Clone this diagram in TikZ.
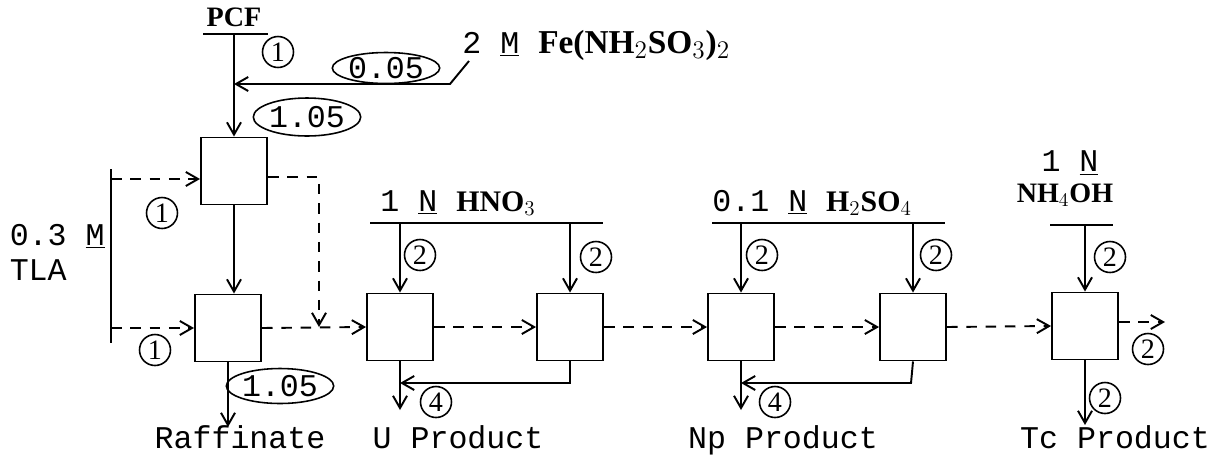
\documentclass[tikz,border=0pt]{standalone}
\usepackage{fontspec}
\setmainfont{Liberation Serif}
\setmonofont{Liberation Mono}
\usetikzlibrary{arrows.meta,shapes.geometric}

\tikzset{
    unit/.style={rectangle, draw, line width=1.1pt, minimum width=1.32cm, minimum height=1.34cm, inner sep=0pt},
    num/.style={circle, draw, line width=0.9pt, inner sep=0pt, minimum size=0.62cm, font=\fontsize{16}{16}\selectfont},
    val/.style={ellipse, draw, line width=0.9pt, inner sep=0pt, minimum width=1.8cm, minimum height=0.62cm, font=\ttfamily\fontsize{18}{18}\selectfont},
    lbl/.style={font=\ttfamily\fontsize{18}{20}\selectfont, inner sep=0pt},
    chem/.style={font=\bfseries\fontsize{16}{18}\selectfont, inner sep=0pt},
    feed/.style={draw, line width=1.1pt},
    flow/.style={draw, line width=1.1pt, -{Straight Barb[length=7pt,width=8pt]}},
    org/.style={flow, dash pattern=on 6pt off 5pt}
}

\begin{document}
\begin{tikzpicture}[x=0.02cm, y=-0.02cm]
\useasboundingbox (0,0) rectangle (1213,454);

% contactors
\node[unit] (s1) at (234,171) {};
\node[unit] (s2) at (228,328) {};
\node[unit] (s3) at (400,327) {};
\node[unit] (s4) at (570,327) {};
\node[unit] (s5) at (741,327) {};
\node[unit] (s6) at (913,327) {};
\node[unit] (s7) at (1085,326) {};

% feed and reductant
\node[chem] (pcf) at (234,17) {PCF};
\coordinate (pcfL) at (203,34);
\coordinate (pcfR) at (268,34);
\draw[feed] (pcfL) -- (pcfR);
\draw[flow] (s1.north |- pcfL) -- (s1.north);
\coordinate (fe1) at (469,61);
\coordinate (fe2) at (450,84);
\draw[flow] (fe1) -- (fe2) -- (fe2 -| s1.north);
\node[anchor=west, inner sep=0pt] (fe) at (462,45) {\ttfamily\fontsize{18}{20}\selectfont 2 \underline{M} \bfseries\rmfamily\fontsize{19}{20}\selectfont Fe(NH$_2$SO$_3$)$_2$};
\node[num] (n1) at (278,52) {1};
\node[val] (v1) at (386,68) {0.05};
\node[val, minimum height=0.76cm] (v2) at (307,117) {1.05};

% solvent
\coordinate (tlaT) at (111,169);
\coordinate (tlaB) at (111,343);
\draw[feed] (tlaT) -- (tlaB);
\node[lbl, anchor=east, align=left] (tla) at (105,252) {0.3 \underline{M}\\TLA};
\coordinate (tla1) at (111,179);
\coordinate (tla2) at (111,328);
\draw[org] (tla1) -- (tla1 -| s1.west);
\draw[org] (tla2) -- (tla2 -| s2.west);
\node[num] (n2) at (162,213) {1};
\node[num] (n3) at (155,350) {1};

% extraction
\draw[flow] (s1.south) -- (s1.south |- s2.north);
\coordinate (ex1) at (319,177);
\coordinate (ex2) at (319,327);
\draw[org] (ex1 -| s1.east) -- (ex1) -- (ex2);
\draw[org] (s2.east) -- (s3.west);
\node[lbl, anchor=base] (raf) at (240,448) {Raffinate};
\draw[flow] (s2.south) -- (s2.south |- 0,427);
\node[val, minimum height=0.7cm] (v3) at (280,386) {1.05};

% U strip
\node[anchor=west, inner sep=0pt] (hno) at (380,203) {\ttfamily\fontsize{18}{20}\selectfont 1 \underline{N} \bfseries\rmfamily\fontsize{17}{18}\selectfont HNO$_3$};
\coordinate (hnL) at (370,223);
\coordinate (hnR) at (603,223);
\draw[feed] (hnL) -- (hnR);
\draw[flow] (s3.north |- hnL) -- (s3.north);
\draw[flow] (s4.north |- hnL) -- (s4.north);
\node[num] (n4) at (420,255) {2};
\node[num] (n5) at (596,257) {2};
\draw[org] (s3.east) -- (s4.west);
\coordinate (rc1) at (570,383);
\draw[flow] (s4.south) -- (rc1) -- (rc1 -| s3.south);
\draw[flow] (s3.south) -- (s3.south |- 0,410);
\node[num] (n6) at (436,402) {4};
\node[lbl, anchor=base] (uprod) at (458,448) {U Product};

% Np strip
\draw[org] (s4.east) -- (s5.west);
\node[anchor=west, inner sep=0pt] (hso) at (712,203) {\ttfamily\fontsize{18}{20}\selectfont 0.1 \underline{N} \bfseries\rmfamily\fontsize{17}{18}\selectfont H$_2$SO$_4$};
\coordinate (hsL) at (712,223);
\coordinate (hsR) at (945,223);
\draw[feed] (hsL) -- (hsR);
\draw[flow] (s5.north |- hsL) -- (s5.north);
\draw[flow] (s6.north |- hsL) -- (s6.north);
\node[num] (n7) at (762,255) {2};
\node[num] (n8) at (936,255) {2};
\draw[org] (s5.east) -- (s6.west);
\coordinate (rc2) at (911,383);
\draw[flow] (s6.south) -- (rc2) -- (rc2 -| s5.south);
\draw[flow] (s5.south) -- (s5.south |- 0,410);
\node[num] (n9) at (775,402) {4};
\node[lbl, anchor=base] (npprod) at (783,448) {Np Product};

% Tc strip
\node[lbl] (nh1) at (1070,163) {1 \underline{N}};
\node[chem] (nh2) at (1065,195) {NH$_4$OH};
\coordinate (nhL) at (1050,225);
\coordinate (nhR) at (1113,225);
\draw[feed] (nhL) -- (nhR);
\draw[flow] (s7.north |- nhL) -- (s7.north);
\node[num] (n10) at (1110,257) {2};
\draw[org] (s6.east) -- (s7.west);
\coordinate (out) at (1165,322);
\draw[org] (out -| s7.east) -- (out);
\node[num] (n11) at (1148,349) {2};
\draw[flow] (s7.south) -- (s7.south |- 0,425);
\node[num] (n12) at (1105,398) {2};
\node[lbl, anchor=base] (tcprod) at (1115,448) {Tc Product};
\end{tikzpicture}
\end{document}
